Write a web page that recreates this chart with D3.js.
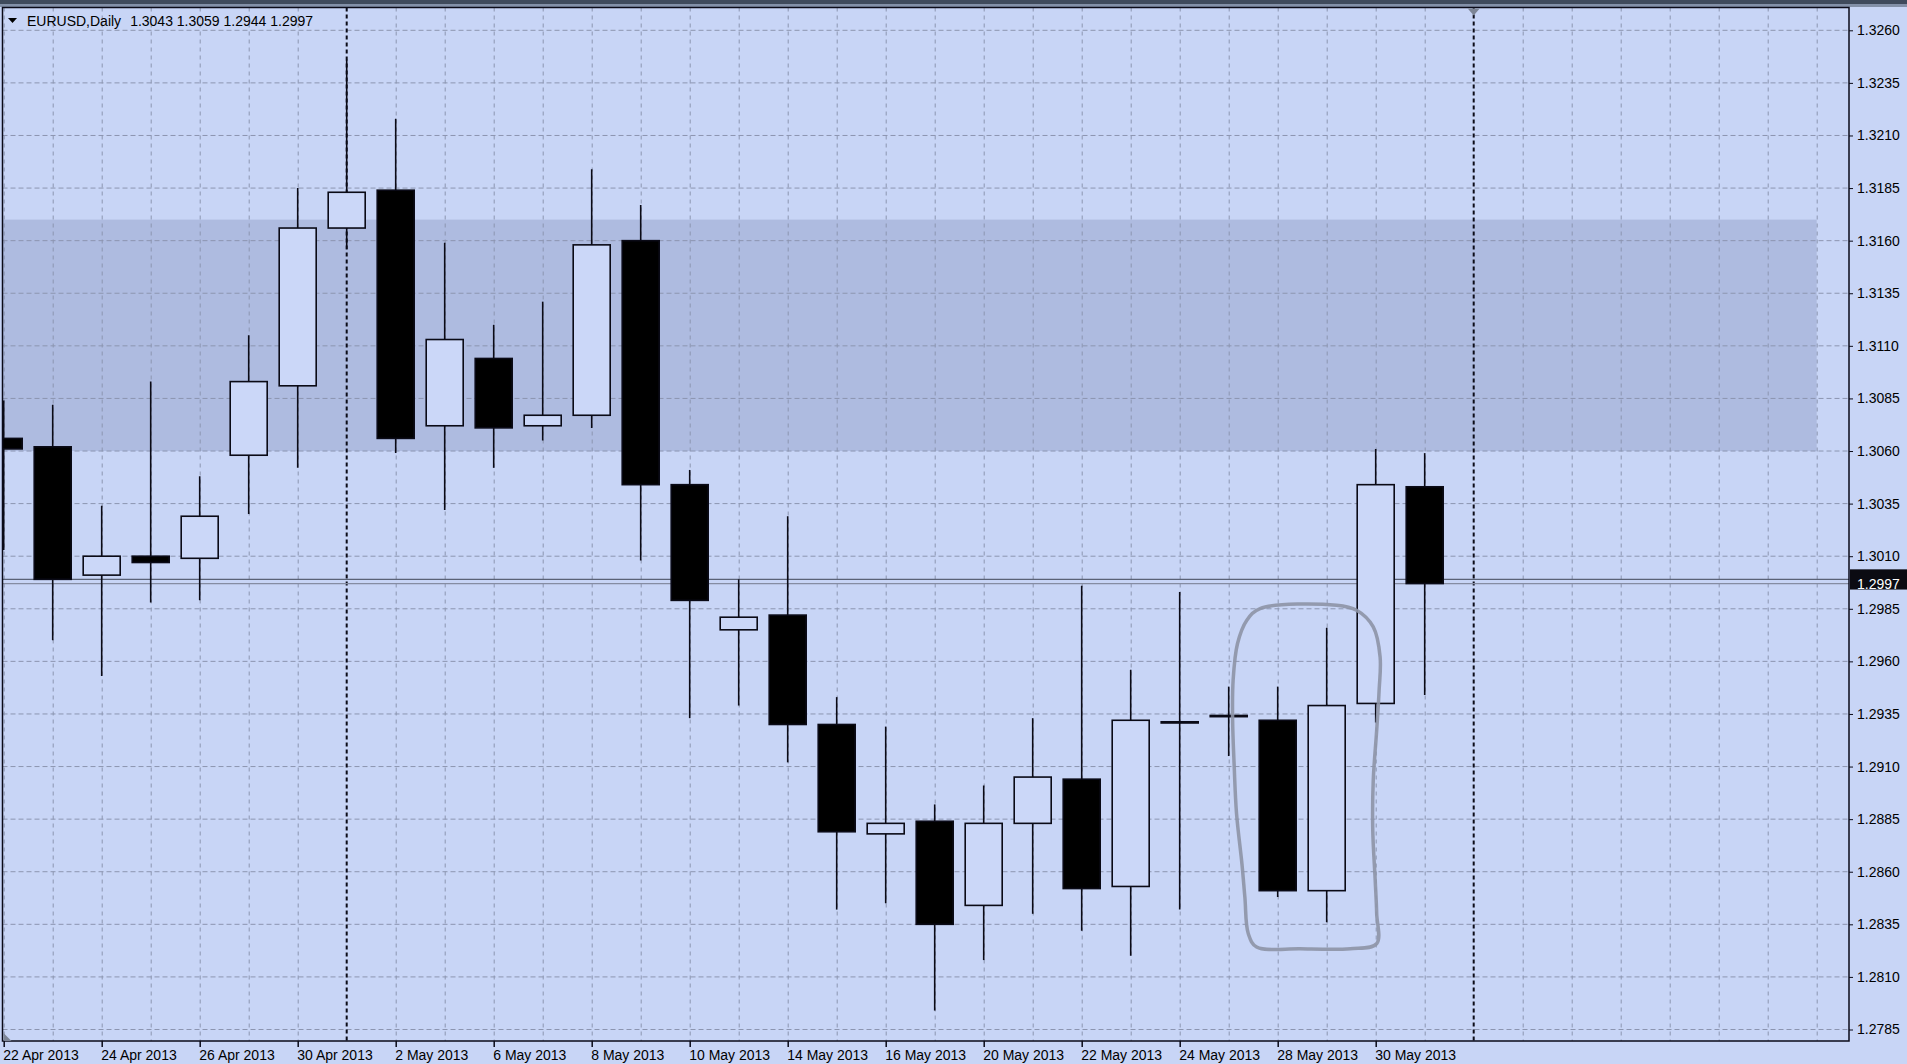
<!DOCTYPE html>
<html>
<head>
<meta charset="utf-8">
<script src="https://cdnjs.cloudflare.com/ajax/libs/d3/7.8.5/d3.min.js"></script>
<style>
  body { margin: 0; background: #c8d5f6; overflow: hidden; }
  text { font-family: "Liberation Sans", Arial, sans-serif; }
</style>
</head>
<body>
<div id="chartContainer"></div>
<script>
// daily EURUSD bars
var dates = ["22 Apr 2013", "23 Apr 2013", "24 Apr 2013", "25 Apr 2013", "26 Apr 2013",
  "29 Apr 2013", "30 Apr 2013", "1 May 2013", "2 May 2013", "3 May 2013",
  "6 May 2013", "7 May 2013", "8 May 2013", "9 May 2013", "10 May 2013",
  "13 May 2013", "14 May 2013", "15 May 2013", "16 May 2013", "17 May 2013",
  "20 May 2013", "21 May 2013", "22 May 2013", "23 May 2013", "24 May 2013",
  "27 May 2013", "28 May 2013", "29 May 2013", "30 May 2013", "31 May 2013"];
var openP  = [1.3066, 1.3062, 1.3001, 1.3010, 1.3009, 1.3058, 1.3091, 1.3166, 1.3184, 1.3072,
              1.3104, 1.3072, 1.3077, 1.3160, 1.3044, 1.2975, 1.2982, 1.2930, 1.2878, 1.2884,
              1.2844, 1.2883, 1.2904, 1.2853, 1.2931, 1.2934, 1.2932, 1.2851, 1.2940, 1.3043];
var highP  = [1.3084, 1.3082, 1.3034, 1.3093, 1.3048, 1.3115, 1.3185, 1.3246, 1.3218, 1.3159,
              1.3120, 1.3131, 1.3194, 1.3177, 1.3051, 1.2999, 1.3029, 1.2943, 1.2929, 1.2892,
              1.2901, 1.2933, 1.2996, 1.2956, 1.2993, 1.2948, 1.2948, 1.2976, 1.3061, 1.3059];
var lowP   = [1.3013, 1.2970, 1.2953, 1.2988, 1.2989, 1.3030, 1.3052, 1.3156, 1.3059, 1.3032,
              1.3052, 1.3065, 1.3071, 1.3008, 1.2933, 1.2939, 1.2912, 1.2842, 1.2845, 1.2794,
              1.2818, 1.2840, 1.2832, 1.2820, 1.2842, 1.2915, 1.2848, 1.2836, 1.2931, 1.2944];
var closeP = [1.3061, 1.2999, 1.3010, 1.3007, 1.3029, 1.3093, 1.3166, 1.3183, 1.3066, 1.3113,
              1.3071, 1.3077, 1.3158, 1.3044, 1.2989, 1.2981, 1.2930, 1.2879, 1.2883, 1.2835,
              1.2883, 1.2905, 1.2852, 1.2932, 1.2931, 1.2934, 1.2851, 1.2939, 1.3044, 1.2997];

var priceTicks = [1.3260, 1.3235, 1.3210, 1.3185, 1.3160, 1.3135, 1.3110, 1.3085, 1.3060, 1.3035,
                  1.3010, 1.2985, 1.2960, 1.2935, 1.2910, 1.2885, 1.2860, 1.2835, 1.2810, 1.2785];
var dateTickBars = [0, 2, 4, 6, 8, 10, 12, 14, 16, 18, 20, 22, 24, 26, 28];
var separatorBars = [7, 30];
var zonePrices = [1.3060, 1.3170];
var zoneBars = [-1, 37];
var bidPrice = 1.2997, askPrice = 1.2999;
var title = "EURUSD,Daily", titleValues = "1.3043 1.3059 1.2944 1.2997";

// hand-drawn loop round 28-29 May, as [bar, price]
var loopPoints = [[25.64, 1.29851], [27.20, 1.29867], [27.61, 1.29843], [27.95, 1.29764], [28.09, 1.29621],
  [28.07, 1.29463], [28.02, 1.29272], [27.95, 1.29035], [27.94, 1.28797], [27.99, 1.28559],
  [28.02, 1.28401], [28.02, 1.28258], [27.48, 1.28234], [26.46, 1.28234], [25.57, 1.28242],
  [25.40, 1.28305], [25.33, 1.28479], [25.27, 1.28638], [25.16, 1.28876], [25.11, 1.29114],
  [25.08, 1.29320], [25.09, 1.29510], [25.18, 1.29685], [25.37, 1.29796]];

var W = 1907, H = 1064;
var pLeft = 2.5, pTop = 7.5, pRight = 1849, pBottom = 1041;

var svg = d3.select("#chartContainer").append("svg")
    .attr("width", W).attr("height", H);

var x = d3.scaleLinear().domain([0, 37]).range([3.7, 1816.7]);
var y = d3.scaleLinear().domain([1.2785, 1.3260]).range([1029.5, 30.3]);

svg.append("rect").attr("width", W).attr("height", H).attr("fill", "#c8d5f6");

// window strip on top
svg.append("rect").attr("width", W).attr("height", 4).attr("fill", "#3f4a5c");
svg.append("rect").attr("y", 4).attr("width", W).attr("height", 3).attr("fill", "#8390a8");

svg.append("clipPath").attr("id", "plot")
  .append("rect").attr("x", pLeft).attr("y", pTop)
  .attr("width", pRight - pLeft).attr("height", pBottom - pTop);

var plot = svg.append("g").attr("clip-path", "url(#plot)");

// shaded zone
plot.append("rect")
    .attr("x", x(zoneBars[0])).attr("y", y(zonePrices[1]))
    .attr("width", x(zoneBars[1]) - x(zoneBars[0]))
    .attr("height", y(zonePrices[0]) - y(zonePrices[1]))
    .attr("fill", "#aebbe0");

// grid
var gridBars = d3.range(0, 38).filter(function (i) { return separatorBars.indexOf(i) < 0; });
plot.selectAll(".vgrid").data(gridBars).enter().append("line")
    .attr("x1", function (d) { return x(d) + 0.5; }).attr("x2", function (d) { return x(d) + 0.5; })
    .attr("y1", pTop).attr("y2", pBottom)
    .style("stroke", "#8c95b0").style("stroke-width", 1).style("stroke-dasharray", "4,4");
plot.selectAll(".hgrid").data(priceTicks).enter().append("line")
    .attr("x1", pLeft).attr("x2", pRight)
    .attr("y1", function (d) { return y(d); }).attr("y2", function (d) { return y(d); })
    .style("stroke", "#8c95b0").style("stroke-width", 1).style("stroke-dasharray", "5,3");

// period separators
plot.selectAll(".sep").data(separatorBars).enter().append("line")
    .attr("x1", function (d) { return x(d); }).attr("x2", function (d) { return x(d); })
    .attr("y1", pTop).attr("y2", pBottom)
    .style("stroke", "#0c0c18").style("stroke-width", 2).style("stroke-dasharray", "4,3");

// ask / bid lines
plot.append("line").attr("x1", pLeft).attr("x2", pRight)
    .attr("y1", y(askPrice)).attr("y2", y(askPrice))
    .style("stroke", "#5a6276").style("stroke-width", 1.2);
plot.append("line").attr("x1", pLeft).attr("x2", pRight)
    .attr("y1", y(bidPrice)).attr("y2", y(bidPrice))
    .style("stroke", "#858ca2").style("stroke-width", 1.2);

// candles
var bars = d3.range(dates.length);
var bodyW = (x(1) - x(0)) * 0.755;
var candle = plot.selectAll(".candle").data(bars).enter().append("g");
candle.append("line")
    .attr("x1", function (i) { return x(i); }).attr("x2", function (i) { return x(i); })
    .attr("y1", function (i) { return y(highP[i]); }).attr("y2", function (i) { return y(lowP[i]); })
    .style("stroke", "#0a0a16").style("stroke-width", 1.6);
candle.append("rect")
    .attr("x", function (i) { return x(i) - bodyW / 2; })
    .attr("width", bodyW)
    .attr("y", function (i) { return y(Math.max(openP[i], closeP[i])) - (openP[i] === closeP[i] ? 0.6 : 0); })
    .attr("height", function (i) { return Math.max(1.2, Math.abs(y(openP[i]) - y(closeP[i]))); })
    .style("fill", function (i) { return closeP[i] > openP[i] ? "#cbd7f8" : "#000"; })
    .style("stroke", "#0a0a16").style("stroke-width", 1.6);

// hand-drawn loop
var loop = d3.line()
    .x(function (d) { return x(d[0]); })
    .y(function (d) { return y(d[1]); })
    .curve(d3.curveCatmullRomClosed);
plot.append("path").attr("d", loop(loopPoints))
    .style("fill", "none").style("stroke", "#8d94a6").style("stroke-width", 3.5)
    .style("stroke-linejoin", "round").style("opacity", 0.9);

// frame
svg.append("rect").attr("x", pLeft).attr("y", pTop)
    .attr("width", pRight - pLeft).attr("height", pBottom - pTop)
    .style("fill", "none").style("stroke", "#0a0a18").style("stroke-width", 1.5);

// price axis
var yAxis = d3.axisRight(y).tickValues(priceTicks).tickFormat(d3.format(".4f")).tickSize(4).tickPadding(4);
var ya = svg.append("g").attr("transform", "translate(" + pRight + ",0)").call(yAxis);
ya.select(".domain").remove();
ya.selectAll("line").style("stroke", "#0a0a18");
ya.selectAll("text").style("font-size", "14px").style("fill", "#000")
    .style("font-family", "'Liberation Sans', Arial, sans-serif");

// date axis
var xAxis = d3.axisBottom(x).tickValues(dateTickBars)
    .tickFormat(function (i) { return dates[i]; }).tickSize(6);
var xa = svg.append("g").attr("transform", "translate(0," + pBottom + ")").call(xAxis);
xa.select(".domain").remove();
xa.selectAll("line").style("stroke", "#0a0a18").style("stroke-width", 1.5);
xa.selectAll("text").attr("text-anchor", "start").attr("dx", 0).attr("x", -1).attr("y", 9)
    .style("font-size", "14px").style("fill", "#000")
    .style("font-family", "'Liberation Sans', Arial, sans-serif");

// current price box (ask label hidden under bid label)
svg.append("rect").attr("x", pRight + 1).attr("y", y(askPrice) - 10)
    .attr("width", W - pRight).attr("height", y(bidPrice) - y(askPrice) + 16).attr("fill", "#0b0b12");
svg.append("text").attr("x", pRight + 8).attr("y", y(bidPrice) + 5)
    .style("font-size", "14px").style("fill", "#fff").text(d3.format(".4f")(bidPrice));

// chart shift marker and corner mark
svg.append("path")
    .attr("d", "M" + (x(30) - 6) + "," + (pTop + 1) + "L" + (x(30) + 6) + "," + (pTop + 1) + "L" + x(30) + "," + (pTop + 8) + "Z")
    .attr("fill", "#7d8596");
svg.append("path")
    .attr("d", "M" + (pLeft + 1) + "," + (pBottom - 8) + "L" + (pLeft + 1) + "," + pBottom + "L" + (pLeft + 9) + "," + pBottom + "Z")
    .attr("fill", "#7d8596");

// title
svg.append("path").attr("d", "M8,18L17,18L12.5,23Z").attr("fill", "#000");
var t = svg.append("text").attr("x", 27).attr("y", 26).style("font-size", "14px").style("fill", "#000");
t.append("tspan").text(title);
t.append("tspan").attr("dx", 9).text(titleValues);
</script>
</body>
</html>
